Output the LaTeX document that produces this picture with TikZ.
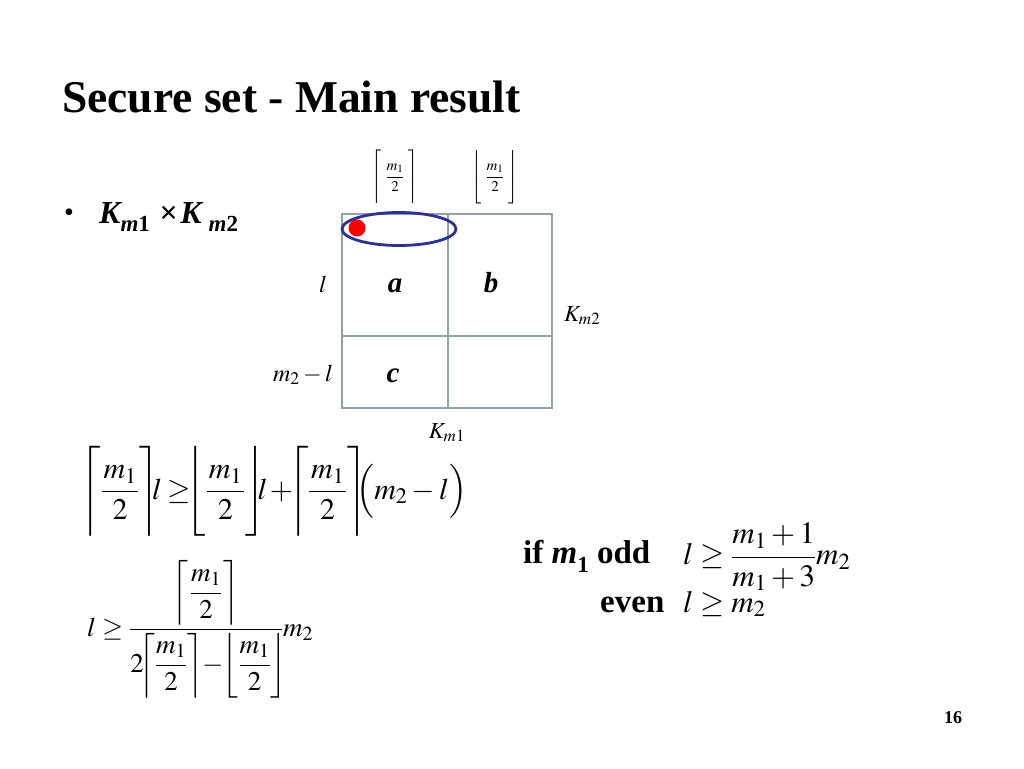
\documentclass[tikz,border=0pt]{standalone}
\usepackage{amsmath}
\usepackage{mathptmx}
\usepackage[no-math]{fontspec}
\setmainfont{Liberation Serif}
\usetikzlibrary{shapes.geometric}
\newcommand\fs[1]{\fontsize{#1pt}{#1pt}\selectfont}
\newcommand\tstrut[1]{\rule[\dimexpr0.25em-#1em/2\relax]{0pt}{#1em}}
% #1 strut height (em), #2 inner space (mu), #3 outer kern (mu), #4 content
\newcommand\mceil[4]{{\mkern#3mu\left\lceil\tstrut{#1}\mkern#2mu #4\mkern#2mu\right\rceil\mkern#3mu}}
\newcommand\mfloor[4]{{\mkern#3mu\left\lfloor\tstrut{#1}\mkern#2mu #4\mkern#2mu\right\rfloor\mkern#3mu}}
\newcommand\hf{\frac{\mkern1mu m_1\mkern1mu}{2}}
% lowered subscript in text: #1 size, #2 text
\newcommand\lsub[2]{\raisebox{-0.28em}{\fs{#1}#2}}
\definecolor{gridc}{HTML}{8FA3AB}
\definecolor{ellc}{HTML}{2E3192}
\tikzset{
  lbl/.style={inner sep=0pt},
}
\begin{document}
\begin{tikzpicture}[x=1pt,y=-1pt]
\path[use as bounding box, fill=white] (0,0) rectangle (1024,768);
% title
\node[lbl, anchor=base west] (title) at (62,112) {\fs{45.5}\bfseries Secure set - Main result};
% bullet
\node[lbl, anchor=base west] (bul) at (64,221) {\fs{28}\textbullet};
\node[lbl, anchor=base west] (kk) at (99,223) {\fs{32}\bfseries\itshape K\lsub{23}{m\upshape 1}\hspace{0.3em}\upshape\symbol{"D7}\hspace{0.08em}\itshape K\hspace{0.22em}\lsub{23}{m\upshape 2}};
% grid
\draw[gridc, line width=2.6pt] (342,214) rectangle (552,408);
\draw[gridc, line width=2.6pt] (448,214) -- (448,408);
\draw[gridc, line width=2.6pt] (342,336) -- (552,336);
\node[draw=ellc, line width=2.8pt, ellipse, minimum width=114pt, minimum height=33pt, inner sep=0pt] (ell) at (399,229) {};
\node[circle, fill=red, minimum size=17pt, inner sep=0pt] (dot) at (357,228) {};
% cell labels
\node[lbl, anchor=base] (a) at (395,292) {\fs{29}\bfseries\itshape a};
\node[lbl, anchor=base] (b) at (491,292) {\fs{29}\bfseries\itshape b};
\node[lbl, anchor=base] (c) at (393,382) {\fs{29}\bfseries\itshape c};
\node[lbl, anchor=base] (l) at (323,292) {\fs{24}$l$};
\node[lbl, anchor=base] (ml) at (303,381) {\fs{24}$m_2-l$};
\node[lbl, anchor=base west] (km2) at (564,321) {\fs{23}$K_{m2}$};
\node[lbl, anchor=base] (km1) at (447,438) {\fs{23}$K_{m1}$};
\node[lbl] (ce) at (395,177) {\fs{15}$\displaystyle\mceil{3.6}{5}{0}{\frac{m_1}{2}}$};
\node[lbl] (fl) at (495,177) {\fs{15}$\displaystyle\mfloor{3.6}{5}{0}{\frac{m_1}{2}}$};
% formula 1
\node[lbl, anchor=base west] (f1) at (88,499) {\fs{30}$\displaystyle\mceil{2.8}{0}{-4}{\hf}l\mkern-1mu\geq\mkern-2mu\mfloor{2.8}{0}{-4}{\hf}l\mkern-1mu+\mkern-1mu\mceil{2.8}{0}{-4}{\hf}\mkern-2mu\Bigl(m_2-l\Bigr)$};
% formula 2
\node[lbl, anchor=base west] (f2) at (87,636) {\fs{27}$\displaystyle l\geq\frac{\mceil{2.3}{1}{0}{\dfrac{m_1}{2}}}{2\mceil{2.3}{0}{-3}{\dfrac{m_1}{2}}-\mfloor{2.3}{0}{-3}{\dfrac{m_1}{2}}}m_2$};
% conditions
\node[lbl, anchor=base west] (odd) at (523,563) {\fs{33}\bfseries if \itshape m\lsub{23}{\upshape 1} \upshape odd};
\node[lbl, anchor=west] (f3) at (683,557) {\fs{31}$\displaystyle l\geq\frac{m_1+1}{m_1+3}m_2$};
\node[lbl, anchor=base west] (even) at (600,612) {\fs{33}\bfseries even};
\node[lbl, anchor=base west] (f4) at (683,612) {\fs{31}$l\geq m_2$};
% page number
\node[lbl, anchor=base] (pg) at (953,723) {\fs{18}\bfseries 16};
\end{tikzpicture}
\end{document}
